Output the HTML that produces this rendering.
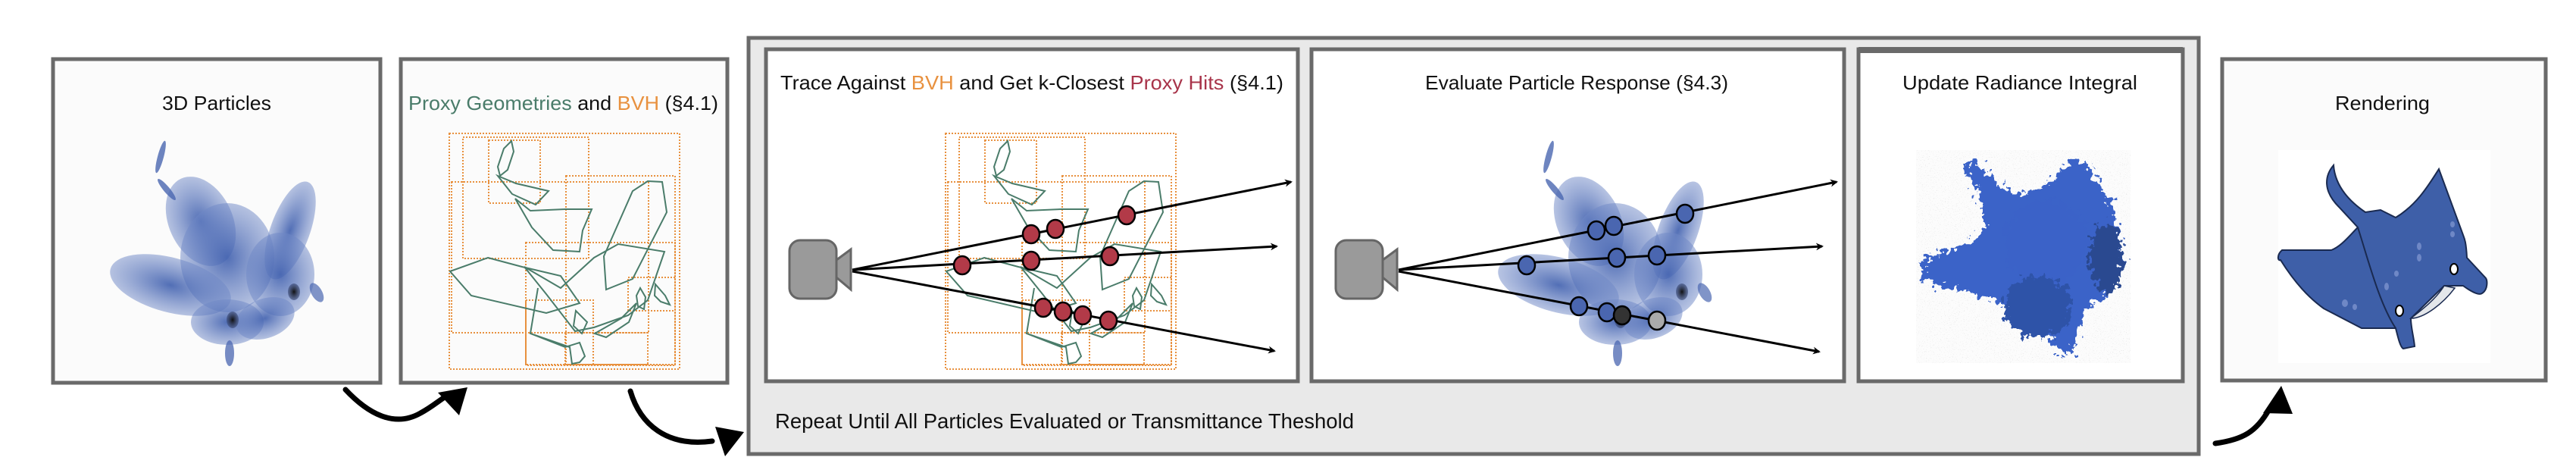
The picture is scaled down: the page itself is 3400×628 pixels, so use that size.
<!DOCTYPE html>
<html><head><meta charset="utf-8"><style>html,body{margin:0;padding:0;background:#fff}svg{display:block}</style></head>
<body>
<svg width="3400" height="628" viewBox="0 0 3400 628" xmlns="http://www.w3.org/2000/svg" font-family="'Liberation Sans', sans-serif">
<defs>
  <radialGradient id="bg1" cx="50%" cy="50%" r="50%">
    <stop offset="0" stop-color="#3f5fae" stop-opacity="0.9"/>
    <stop offset="1" stop-color="#6f88c6" stop-opacity="0.5"/>
  </radialGradient>
  <radialGradient id="eye" cx="50%" cy="50%" r="50%">
    <stop offset="0" stop-color="#111"/>
    <stop offset="1" stop-color="#3a4a78" stop-opacity="0.6"/>
  </radialGradient>
  <marker id="ah" markerWidth="10" markerHeight="10" refX="8" refY="5" orient="auto" markerUnits="userSpaceOnUse">
    <path d="M0,0 L10,5 L0,10 L3,5 Z" fill="#000"/>
  </marker>
  <filter id="rough" x="-20%" y="-20%" width="140%" height="140%">
    <feTurbulence type="fractalNoise" baseFrequency="0.12" numOctaves="3" seed="3"/>
    <feDisplacementMap in="SourceGraphic" scale="30" xChannelSelector="R" yChannelSelector="G"/>
  </filter>
  <filter id="noise">
    <feTurbulence type="fractalNoise" baseFrequency="0.8" numOctaves="1" seed="7" result="t"/>
    <feColorMatrix in="t" type="matrix" values="0 0 0 0 0.5  0 0 0 0 0.5  0 0 0 0 0.5  6 0 0 0 -3.6"/>
  </filter>
  <clipPath id="nclip"><rect x="2529" y="198" width="283" height="281"/></clipPath>

  <g id="particles">
    <ellipse cx="265" cy="292" rx="42" ry="62" transform="rotate(-25 265 292)" fill="url(#bg1)"/>
    <ellipse cx="383" cy="304" rx="26" ry="68" transform="rotate(20 383 304)" fill="url(#bg1)"/>
    <ellipse cx="300" cy="340" rx="62" ry="72" fill="url(#bg1)"/>
    <ellipse cx="225" cy="376" rx="82" ry="36" transform="rotate(15 225 376)" fill="url(#bg1)"/>
    <ellipse cx="370" cy="362" rx="45" ry="55" fill="url(#bg1)"/>
    <ellipse cx="300" cy="425" rx="48" ry="30" fill="url(#bg1)"/>
    <ellipse cx="350" cy="420" rx="40" ry="26" transform="rotate(-20 350 420)" fill="url(#bg1)"/>
    <ellipse cx="212" cy="207" rx="4" ry="22" transform="rotate(15 212 207)" fill="#4a66b0" fill-opacity="0.8"/>
    <ellipse cx="220" cy="250" rx="4" ry="18" transform="rotate(-40 220 250)" fill="#4a66b0" fill-opacity="0.8"/>
    <ellipse cx="303" cy="466" rx="6" ry="17" fill="#4a66b0" fill-opacity="0.75"/>
    <ellipse cx="418" cy="386" rx="7" ry="14" transform="rotate(-30 418 386)" fill="#4a66b0" fill-opacity="0.7"/>
    <ellipse cx="388" cy="385" rx="8" ry="11" fill="url(#eye)"/>
    <ellipse cx="307" cy="422" rx="8" ry="11" fill="url(#eye)"/>
  </g>

  <g id="proxy" fill="none">
    <g stroke="#e8913f" stroke-width="2" stroke-dasharray="2,2">
      <rect x="593" y="176" width="304" height="311"/>
      <rect x="611" y="181" width="166" height="160"/>
      <rect x="645" y="185" width="68" height="83"/>
      <rect x="596" y="240" width="260" height="199"/>
      <rect x="747" y="232" width="144" height="249"/>
      <rect x="694" y="320" width="197" height="162"/>
      <rect x="829" y="366" width="62" height="44"/>
      <rect x="694" y="396" width="89" height="85"/>
      <rect x="746" y="439" width="109" height="42"/>
    </g>
    <g stroke="#4a7c6a" stroke-width="2">
      <polygon points="675,186 678,200 670,224 660,232 657,220 665,196"/>
      <polygon points="657,232 681,242 724,252 707,270 676,256"/>
      <polygon points="746,276 781,276 769,304 765,332 730,330 702,300 680,262 700,278"/>
      <polygon points="644,340 689,352 740,364 765,400 721,413 622,390 594,358"/>
      <polygon points="855,239 835,252 797,338 800,382 835,368 880,280 874,240"/>
      <polygon points="692,352 721,388 759,437 784,432 829,416 855,396 877,332 816,322 784,340 740,380"/>
      <polygon points="700,440 746,458 765,452 772,470 765,478 755,480 752,458 700,440 710,380"/>
      <polygon points="760,410 775,425 768,440 757,430"/>
      <polygon points="845,380 852,392 850,408 842,404 840,390"/>
      <polygon points="865,375 878,390 884,402 872,398 864,390"/>
      <polygon points="785,440 820,420 840,400 830,425 800,445"/>
    </g>
  </g>
</defs>

<!-- Box 1 -->
<rect x="70" y="78" width="432" height="427" fill="#fbfbfb" stroke="#6a6a6a" stroke-width="5"/>
<text x="214" y="145" font-size="26" textLength="144" lengthAdjust="spacingAndGlyphs" fill="#111">3D Particles</text>
<use href="#particles"/>

<!-- Box 2 -->
<rect x="529" y="78" width="431" height="427" fill="#fbfbfb" stroke="#6a6a6a" stroke-width="5"/>
<text x="539" y="145" font-size="26" textLength="409" lengthAdjust="spacingAndGlyphs" fill="#111"><tspan fill="#4a7c6a">Proxy Geometries</tspan> and <tspan fill="#e8913f">BVH</tspan> (§4.1)</text>
<use href="#proxy"/>

<!-- Outer loop box -->
<rect x="988" y="50" width="1914" height="549" fill="#e9e9e9" stroke="#6a6a6a" stroke-width="5"/>
<text x="1023" y="565" font-size="28" textLength="764" lengthAdjust="spacingAndGlyphs" fill="#111">Repeat Until All Particles Evaluated or Transmittance Theshold</text>

<!-- Box A -->
<rect x="1011" y="65" width="702" height="438" fill="#fff" stroke="#6a6a6a" stroke-width="5"/>
<text x="1030" y="118" font-size="26" textLength="664" lengthAdjust="spacingAndGlyphs" fill="#111">Trace Against <tspan fill="#e8913f">BVH</tspan> and Get k-Closest <tspan fill="#a8344a">Proxy Hits</tspan> (§4.1)</text>
<g transform="translate(655,0)"><use href="#proxy"/></g>
<rect x="1042" y="317" width="62" height="77" rx="14" fill="#9a9a9a" stroke="#666" stroke-width="3"/>
<polygon points="1104,343 1123,329 1123,382 1104,366" fill="#9a9a9a" stroke="#666" stroke-width="3"/>
<g stroke="#000" stroke-width="3" fill="none" marker-end="url(#ah)">
  <line x1="1125" y1="356" x2="1704" y2="240"/>
  <line x1="1125" y1="356" x2="1685" y2="325"/>
  <line x1="1125" y1="358" x2="1682" y2="463"/>
</g>
<g fill="#b23a48" stroke="#000" stroke-width="2.5">
  <ellipse cx="1270" cy="350" rx="11" ry="12"/>
  <ellipse cx="1361" cy="309" rx="11" ry="12"/>
  <ellipse cx="1393" cy="302" rx="11" ry="12"/>
  <ellipse cx="1487" cy="284" rx="11" ry="12"/>
  <ellipse cx="1361" cy="344" rx="11" ry="12"/>
  <ellipse cx="1465" cy="338" rx="11" ry="12"/>
  <ellipse cx="1377" cy="406" rx="11" ry="12"/>
  <ellipse cx="1403" cy="411" rx="11" ry="12"/>
  <ellipse cx="1429" cy="416" rx="11" ry="12"/>
  <ellipse cx="1463" cy="423" rx="11" ry="12"/>
</g>

<!-- Box B -->
<rect x="1731" y="65" width="703" height="438" fill="#fff" stroke="#6a6a6a" stroke-width="5"/>
<text x="1881" y="118" font-size="26" textLength="400" lengthAdjust="spacingAndGlyphs" fill="#111">Evaluate Particle Response (§4.3)</text>
<g transform="translate(1832,0)"><use href="#particles"/></g>
<rect x="1763" y="317" width="62" height="77" rx="14" fill="#9a9a9a" stroke="#666" stroke-width="3"/>
<polygon points="1825,343 1844,329 1844,382 1825,366" fill="#9a9a9a" stroke="#666" stroke-width="3"/>
<g stroke="#000" stroke-width="3" fill="none" marker-end="url(#ah)">
  <line x1="1846" y1="356" x2="2424" y2="240"/>
  <line x1="1846" y1="356" x2="2405" y2="325"/>
  <line x1="1846" y1="358" x2="2401" y2="464"/>
</g>
<g fill="#4a66b0" stroke="#000" stroke-width="2.5">
  <ellipse cx="2107" cy="304" rx="11" ry="12"/>
  <ellipse cx="2130" cy="298" rx="11" ry="12"/>
  <ellipse cx="2224" cy="282" rx="11" ry="12"/>
  <ellipse cx="2015" cy="350" rx="11" ry="12"/>
  <ellipse cx="2134" cy="340" rx="11" ry="12"/>
  <ellipse cx="2187" cy="337" rx="11" ry="12"/>
  <ellipse cx="2084" cy="404" rx="11" ry="12"/>
  <ellipse cx="2121" cy="412" rx="11" ry="12"/>
  <ellipse cx="2141" cy="416" rx="11" ry="12" fill="#333"/>
  <ellipse cx="2187" cy="423" rx="11" ry="12" fill="#aaa"/>
</g>

<!-- Box C -->
<rect x="2453" y="65" width="428" height="438" fill="#fff" stroke="#6a6a6a" stroke-width="5"/>
<line x1="2453" y1="66" x2="2881" y2="66" stroke="#6a6a6a" stroke-width="8"/>
<text x="2511" y="118" font-size="26" textLength="310" lengthAdjust="spacingAndGlyphs" fill="#111">Update Radiance Integral</text>
<g clip-path="url(#nclip)">
  <rect x="2529" y="198" width="283" height="281" fill="#fcfcfc"/>
  <rect x="2529" y="198" width="283" height="281" filter="url(#noise)" opacity="0.35"/>
  <g filter="url(#rough)">
    <path d="M2535,345 C2560,330 2600,330 2620,300 C2620,270 2600,240 2590,215 L2610,215 C2640,250 2660,265 2690,250 C2710,240 2720,215 2745,210 C2770,230 2790,270 2800,320 C2810,360 2790,390 2760,400 C2745,420 2740,445 2735,465 L2715,465 C2700,430 2660,420 2640,400 C2610,385 2570,380 2540,370 Z" fill="#3b63c8"/>
    <ellipse cx="2700" cy="320" rx="55" ry="55" fill="#3a62c8"/>
    <ellipse cx="2690" cy="405" rx="45" ry="40" fill="#2f52a8"/>
    <ellipse cx="2780" cy="340" rx="22" ry="45" fill="#2a4890"/>
  </g>
</g>

<!-- Rendering box -->
<rect x="2933" y="78" width="427" height="424" fill="#fbfbfb" stroke="#6a6a6a" stroke-width="5"/>
<text x="3082" y="145" font-size="26" textLength="125" lengthAdjust="spacingAndGlyphs" fill="#111">Rendering</text>
<rect x="3007" y="198" width="280" height="281" fill="#fff"/>
<path d="M3080,218 C3068,232 3066,252 3087,273 L3112,300 C3100,312 3090,325 3077,330 L3012,330 C3005,336 3006,345 3010,343 C3030,375 3050,395 3067,407 L3117,433 L3162,433 C3165,445 3168,458 3172,460 L3187,457 C3186,445 3182,432 3182,420 L3226,377 L3251,377 C3262,385 3272,390 3276,387 C3284,382 3283,370 3281,367 L3256,340 C3255,320 3253,315 3251,310 L3219,223 C3205,245 3190,270 3162,287 L3142,277 L3122,280 C3100,265 3082,245 3080,218 Z" fill="#3e5fa8" stroke="#1a2a50" stroke-width="2"/>
<path d="M3226,377 C3215,395 3195,410 3182,420 C3200,420 3225,400 3240,380 Z" fill="#e3e6ea" stroke="#1a2a50" stroke-width="1.5"/>
<path d="M3112,300 C3125,340 3140,400 3162,433" fill="none" stroke="#1a2a50" stroke-width="2"/>
<ellipse cx="3239" cy="355" rx="5" ry="7" fill="#fff" stroke="#000" stroke-width="2"/>
<ellipse cx="3167" cy="410" rx="5" ry="7" fill="#fff" stroke="#000" stroke-width="2"/>
<g fill="#6f88c6">
  <ellipse cx="3193" cy="325" rx="3" ry="5"/><ellipse cx="3193" cy="340" rx="3" ry="5"/>
  <ellipse cx="3237" cy="296" rx="3" ry="4"/><ellipse cx="3237" cy="309" rx="3" ry="4"/>
  <ellipse cx="3163" cy="361" rx="3" ry="4"/><ellipse cx="3150" cy="378" rx="3" ry="5"/>
  <ellipse cx="3095" cy="400" rx="4" ry="5"/><ellipse cx="3108" cy="405" rx="3" ry="4"/>
</g>

<!-- connector arrows -->
<g fill="none" stroke="#000" stroke-width="7" stroke-linecap="round">
  <path d="M456,514 C485,545 520,565 555,545 C570,537 580,528 590,522"/>
  <path d="M832,516 C845,560 880,590 940,582"/>
  <path d="M2924,585 C2960,580 2978,570 2995,540"/>
</g>
<polygon points="617,511 578,518 606,548" fill="#000"/>
<polygon points="982,570 944,563 957,602" fill="#000"/>
<polygon points="3011,509 2987,545 3026,546" fill="#000"/>
</svg>
</body></html>
